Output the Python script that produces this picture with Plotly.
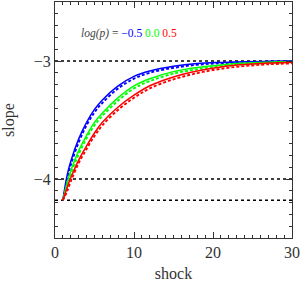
import plotly.graph_objects as go

shock = [1, 1.5, 2, 3, 4, 5, 6, 8, 10, 12, 15, 18, 21, 24, 27, 30]

blue_solid = [-4.18, -3.98, -3.85, -3.66, -3.52, -3.41, -3.33, -3.21, -3.13, -3.085, -3.045, -3.022, -3.012, -3.006, -3.003, -3.001]
blue_dash = [-4.18, -4.02, -3.88, -3.69, -3.545, -3.435, -3.355, -3.232, -3.15, -3.1, -3.058, -3.032, -3.019, -3.011, -3.007, -3.004]
green_solid = [-4.18, -4.04, -3.93, -3.76, -3.63, -3.52, -3.44, -3.31, -3.21, -3.15, -3.09, -3.055, -3.033, -3.018, -3.01, -3.005]
green_dash = [-4.18, -4.07, -3.96, -3.79, -3.655, -3.545, -3.465, -3.335, -3.232, -3.17, -3.107, -3.07, -3.045, -3.028, -3.017, -3.01]
red_solid = [-4.18, -4.08, -3.99, -3.84, -3.72, -3.61, -3.52, -3.39, -3.29, -3.21, -3.135, -3.085, -3.05, -3.03, -3.017, -3.01]
red_dash = [-4.18, -4.11, -4.02, -3.865, -3.745, -3.635, -3.545, -3.413, -3.312, -3.232, -3.155, -3.103, -3.066, -3.043, -3.028, -3.02]

hlines = [-3, -4, -4.18]
xspan = [0, 30]

legend_label = "log(p)"
legend_values = ["\u22120.5", "0.0", "0.5"]
colors = ["#0000ff", "#00ff00", "#ff0000"]

fig = go.Figure()

for h in hlines:
    fig.add_trace(go.Scatter(x=xspan, y=[h, h], mode="lines",
                             line=dict(color="black", width=1.5, dash="dot"),
                             showlegend=False, hoverinfo="skip"))

for solid, dash, c in [(blue_solid, blue_dash, colors[0]),
                       (green_solid, green_dash, colors[1]),
                       (red_solid, red_dash, colors[2])]:
    fig.add_trace(go.Scatter(x=shock, y=dash, mode="lines",
                             line=dict(color=c, width=1.9, dash="3px,2px", shape="spline"),
                             showlegend=False))
    fig.add_trace(go.Scatter(x=shock, y=solid, mode="lines",
                             line=dict(color=c, width=1.5, shape="spline"),
                             showlegend=False))

# invisible trace to activate mirrored top/right axes with minor ticks
fig.add_trace(go.Scatter(x=xspan, y=[-3, -3], xaxis="x2", yaxis="y2", mode="lines",
                         line=dict(width=0), opacity=0, showlegend=False, hoverinfo="skip"))

ann_text = ("<i>" + legend_label + "</i> = "
            + "".join(f"<span style='color:{c}'>{v}</span> " for v, c in zip(legend_values, colors)))
fig.add_annotation(x=3.0, y=-2.763, xref="x", yref="y", text=ann_text.strip(),
                   showarrow=False, xanchor="left", yanchor="middle",
                   font=dict(family="Liberation Serif", size=11.5, color="#444444"))

font = dict(family="Liberation Serif", size=16, color="#333333")
axis_common = dict(showline=True, linecolor="#333333", linewidth=1.2,
                   ticks="inside", ticklen=6, tickcolor="#333333", tickwidth=1,
                   showgrid=False, zeroline=False, tickfont=font, automargin=False)

xminor = dict(dtick=1, ticks="inside", ticklen=3, tickcolor="#333333", showgrid=False)
yminor = dict(dtick=0.1, tick0=-4.5, ticks="inside", ticklen=3, tickcolor="#333333", showgrid=False)

fig.update_layout(
    xaxis=dict(range=[0, 30], tickvals=[0, 10, 20, 30], ticktext=["0", "10", "20", "30"],
               minor=xminor, title=dict(text="shock", font=font, standoff=10), **axis_common),
    yaxis=dict(range=[-4.5, -2.5], tickvals=[-4, -3], ticktext=["\u22124", "\u22123"],
               minor=yminor, title=dict(text="slope", font=font, standoff=16), **axis_common),
    xaxis2=dict(range=[0, 30], tickvals=[0, 10, 20, 30], overlaying="x", side="top",
                anchor="y2", showticklabels=False, minor=xminor, **axis_common),
    yaxis2=dict(range=[-4.5, -2.5], tickvals=[-4, -3], overlaying="y", side="right",
                anchor="x2", showticklabels=False, minor=yminor, **axis_common),
    width=300, height=282, margin=dict(l=55, r=8, t=2, b=44),
    plot_bgcolor="white", paper_bgcolor="white", showlegend=False)

fig.write_html("out.html", config={"displayModeBar": False},
               post_script="document.body.style.margin='0';")
